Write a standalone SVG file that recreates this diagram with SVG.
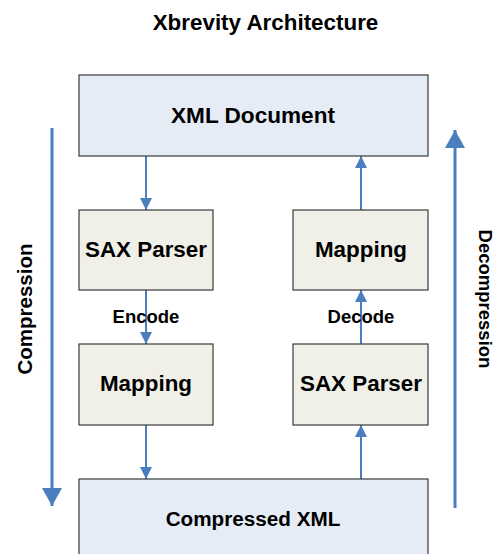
<svg xmlns="http://www.w3.org/2000/svg" width="497" height="554" viewBox="0 0 497 554">
<style>
.big{fill:#e6ecf6;stroke:#3a3a3a;stroke-width:1.2}
.small{fill:#f0f0e8;stroke:#3a3a3a;stroke-width:1.2}
.t{font-family:"Liberation Sans",Arial,sans-serif;font-weight:bold;fill:#000;text-anchor:middle}
.c{stroke:#4a7ebf;stroke-width:2;fill:none}
.c2{stroke:#4a7ebf;stroke-width:3;fill:none}
</style>
<defs>
<marker id="ah" markerUnits="userSpaceOnUse" markerWidth="14" markerHeight="12" refX="12" refY="6" orient="auto"><path d="M0,0 L12,6 L0,12 Z" fill="#4a7ebf"/></marker>
<marker id="ahb" markerUnits="userSpaceOnUse" markerWidth="20" markerHeight="20" refX="18" refY="10" orient="auto"><path d="M0,0 L18,10 L0,20 Z" fill="#4a7ebf"/></marker>
</defs>
<rect width="497" height="554" fill="#fff"/>
<text class="t" x="265.5" y="30" font-size="22.4">Xbrevity Architecture</text>
<g id="connectors">
<line class="c" x1="146" y1="156" x2="146" y2="210" marker-end="url(#ah)"/>
<line class="c" x1="146" y1="290" x2="146" y2="344" marker-end="url(#ah)"/>
<line class="c" x1="146" y1="425" x2="146" y2="479" marker-end="url(#ah)"/>
<line class="c" x1="361" y1="479" x2="361" y2="425" marker-end="url(#ah)"/>
<line class="c" x1="361" y1="344" x2="361" y2="290" marker-end="url(#ah)"/>
<line class="c" x1="361" y1="210" x2="361" y2="156" marker-end="url(#ah)"/>
<line class="c2" x1="52" y1="128" x2="52" y2="506" marker-end="url(#ahb)"/>
<line class="c2" x1="455" y1="508" x2="455" y2="130" marker-end="url(#ahb)"/>
<text class="t" x="146" y="323" font-size="18.5">Encode</text>
<text class="t" x="361" y="323" font-size="18.5">Decode</text>
<text class="t" font-size="20.5" transform="translate(32,309) rotate(-90)">Compression</text>
<text class="t" font-size="18.5" transform="translate(479,299) rotate(90)">Decompression</text>
</g>
<g id="xml-document"><rect class="big" x="79" y="75" width="349" height="81"/><text class="t" x="253" y="123" font-size="22.6">XML Document</text></g>
<g id="sax-parser-left"><rect class="small" x="79" y="210" width="134" height="80"/><text class="t" x="146" y="257" font-size="22.4">SAX Parser</text></g>
<g id="mapping-right"><rect class="small" x="293" y="210" width="135" height="80"/><text class="t" x="361" y="257" font-size="22.4">Mapping</text></g>
<g id="mapping-left"><rect class="small" x="79" y="344" width="134" height="81"/><text class="t" x="146" y="391" font-size="22.4">Mapping</text></g>
<g id="sax-parser-right"><rect class="small" x="293" y="344" width="135" height="81"/><text class="t" x="361" y="391" font-size="22.4">SAX Parser</text></g>
<g id="compressed-xml"><rect class="big" x="79" y="479" width="349" height="80"/><text class="t" x="253" y="526" font-size="20.7">Compressed XML</text></g>
</svg>
